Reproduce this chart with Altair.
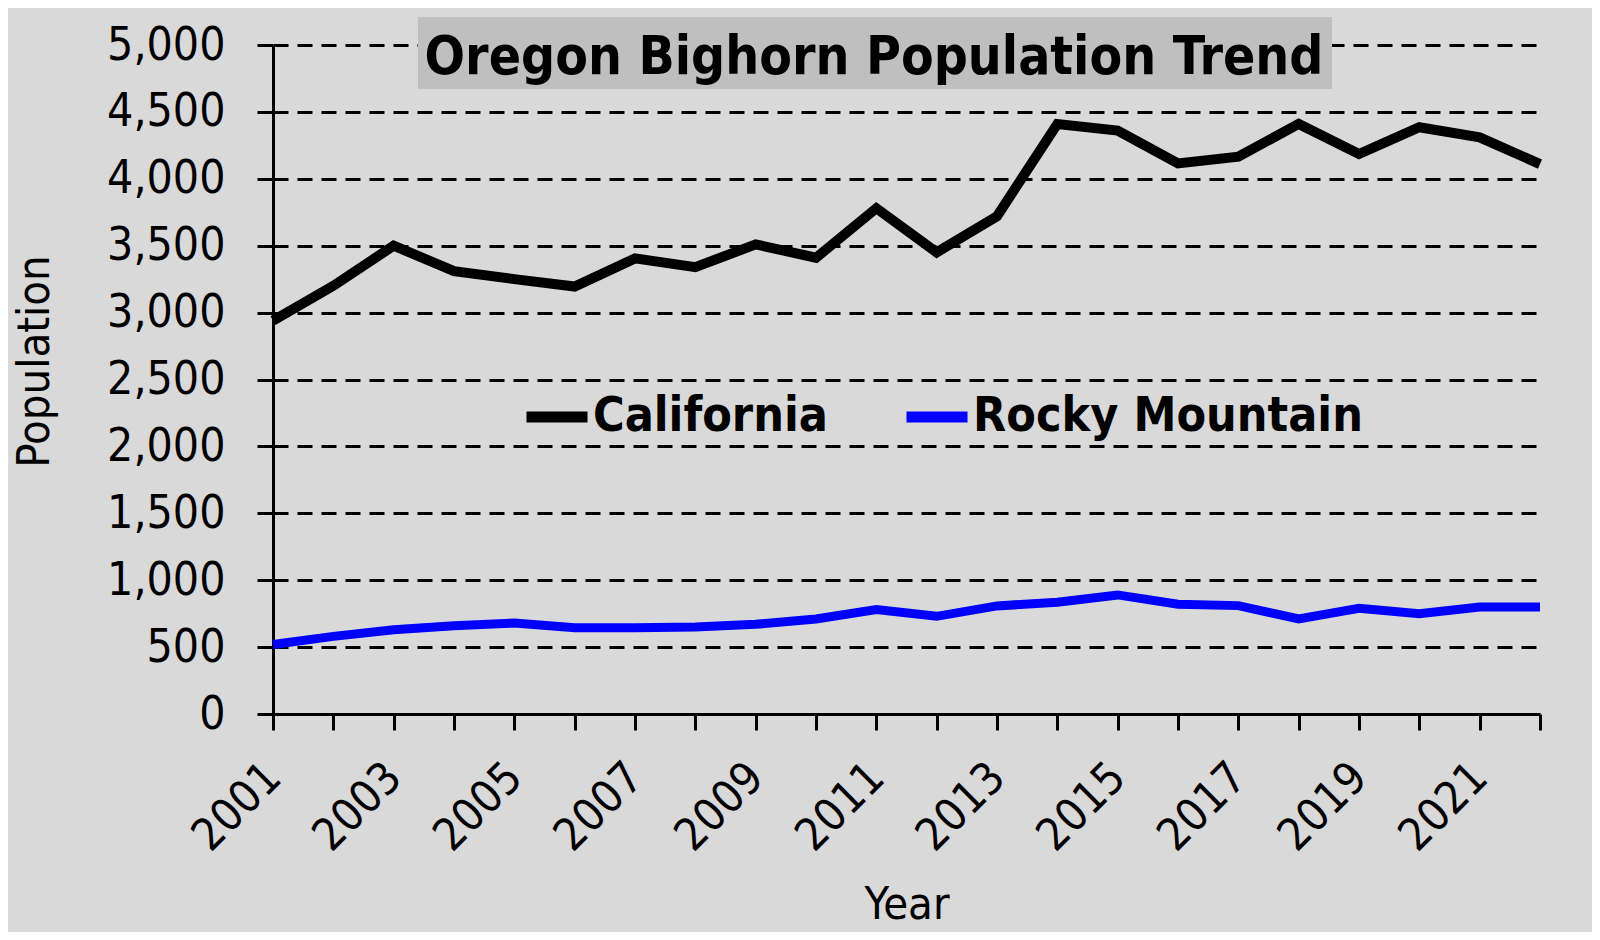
import altair as alt
import pandas as pd

# ---- data ----
years = list(range(2001, 2023))
california = [2940, 3200, 3500, 3310, 3250, 3195, 3405, 3340, 3510, 3410,
              3780, 3450, 3720, 4410, 4360, 4115, 4165, 4410, 4185, 4385,
              4310, 4110]
rocky_mountain = [520, 580, 630, 660, 680, 645, 645, 650, 670, 710,
                  780, 730, 808, 835, 890, 820, 810, 710, 790, 750,
                  800, 800]
series_names = ["California", "Rocky Mountain"]
series_colors = ["#000000", "#0000ff"]
y_tick_values = list(range(0, 5001, 500))
x_tick_values = years
title_text = "Oregon Bighorn Population Trend"

FONT = "DejaVu Sans Condensed, DejaVu Sans, sans-serif"

df = pd.DataFrame({
    "Year": years * 2,
    "Population": california + rocky_mountain,
    "Series": [series_names[0]] * len(years) + [series_names[1]] * len(years),
})

W, H = 1267, 669

x_enc = alt.X(
    "Year:Q",
    scale=alt.Scale(domain=[years[0], years[-1]], nice=False, zero=False),
    axis=alt.Axis(
        values=x_tick_values,
        labelExpr="datum.value % 2 == 1 ? format(datum.value, 'd') : ''",
        labelAngle=315,
        labelAlign="right",
        labelBaseline="middle",
        labelPadding=40,
        labelFontSize=45,
        labelFont=FONT,
        labelColor="#000000",
        labelOverlap=False,
        tickSize=16,
        tickWidth=3,
        tickColor="#000000",
        domainWidth=3,
        domainColor="#000000",
        grid=False,
        title="Year",
        titleFont=FONT,
        titleFontSize=45,
        titleFontWeight="normal",
        titleColor="#000000",
        titleBaseline="alphabetic",
        titleY=204,
    ),
)

y_enc = alt.Y(
    "Population:Q",
    scale=alt.Scale(domain=[0, 5000], nice=False),
    axis=alt.Axis(
        values=y_tick_values,
        format=",d",
        labelFontSize=46,
        labelFont=FONT,
        labelColor="#000000",
        labelPadding=32,
        tickSize=16,
        tickWidth=3,
        tickColor="#000000",
        domainWidth=3,
        domainColor="#000000",
        grid=True,
        gridColor="#000000",
        gridWidth=3,
        gridDash=[15, 9],
        title="Population",
        titleFont=FONT,
        titleFontSize=45,
        titleFontWeight="normal",
        titleColor="#000000",
        titleAngle=270,
        titleAlign="center",
        titleBaseline="middle",
        titleX=-239,
        titleY=316,
    ),
)

color_enc = alt.Color(
    "Series:N",
    scale=alt.Scale(domain=series_names, range=series_colors),
    legend=alt.Legend(
        title=None,
        orient="none",
        legendX=238,
        legendY=336,
        direction="horizontal",
        symbolType="stroke",
        symbolSize=3721,
        symbolStrokeWidth=11,
        symbolOffset=10,
        labelFont=FONT,
        labelFontSize=48,
        labelFontWeight="bold",
        labelColor="#000000",
        labelOffset=0,
        labelLimit=800,
        columnPadding=56,
        padding=0,
    ),
)

base = alt.Chart(df)

cal_line = base.transform_filter(
    alt.datum.Series == series_names[0]
).mark_line(strokeWidth=10).encode(x=x_enc, y=y_enc, color=color_enc)

rocky_line = base.transform_filter(
    alt.datum.Series == series_names[1]
).mark_line(strokeWidth=9).encode(x=x_enc, y=y_enc, color=color_enc)

title_df = pd.DataFrame({"t": [title_text]})
title_box = alt.Chart(title_df).mark_rect(color="#bfbfbf").encode(
    x=alt.value(145), x2=alt.value(1059), y=alt.value(-28), y2=alt.value(44)
)
title_label = alt.Chart(title_df).mark_text(
    font=FONT, fontSize=53, fontWeight="bold", color="#000000",
    align="center", baseline="alphabetic"
).encode(x=alt.value(601), y=alt.value(29), text="t:N")

chart = alt.layer(title_box, title_label, cal_line, rocky_line).properties(
    width=W,
    height=H,
    background="#d9d9d9",
    autosize=alt.AutoSizeParams(type="none"),
    padding={"left": 265, "top": 37, "right": 52, "bottom": 218},
).configure_view(stroke=None)

chart.save("out.html", embed_options={"renderer": "svg", "actions": False})
